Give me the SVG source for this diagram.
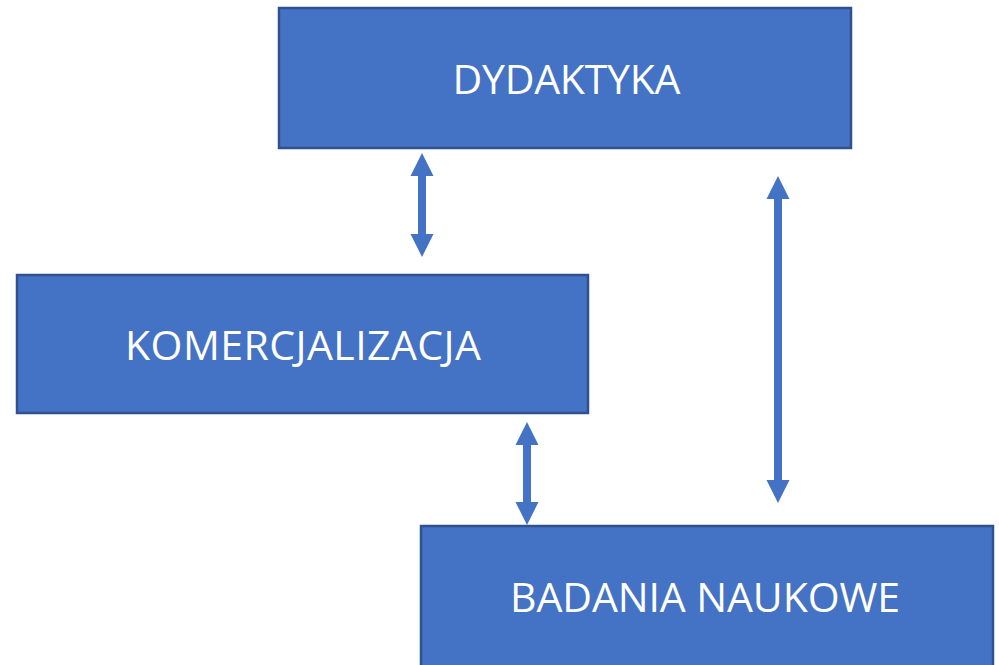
<svg xmlns="http://www.w3.org/2000/svg" width="999" height="665" viewBox="0 0 999 665">
<style>
.box{fill:#4472C4;stroke:#2F528F;stroke-width:2.5}
.lbl{fill:#FFFFFF;font-family:"Open Sans","Noto Sans","Liberation Sans",sans-serif;font-size:41px;text-anchor:middle}
.arr{fill:#4472C4}
</style>
<rect width="999" height="665" fill="#FFFFFF"/>
<g id="connectors">
<polygon class="arr" points="422,153 433.5,176 426,176 426,234 433.5,234 422,257 410.5,234 418,234 418,176 410.5,176"/>
<polygon class="arr" points="778,176 789.5,199 782,199 782,480 789.5,480 778,503 766.5,480 774,480 774,199 766.5,199"/>
<polygon class="arr" points="527,422 538.5,445 531,445 531,502 538.5,502 527,525 515.5,502 523,502 523,445 515.5,445"/>
</g>
<g id="dydaktyka">
<rect class="box" x="279" y="8" width="572" height="140"/>
<text class="lbl" x="566.5" y="93.5" textLength="228" lengthAdjust="spacing">DYDAKTYKA</text>
</g>
<g id="komercjalizacja">
<rect class="box" x="17" y="275" width="571" height="138"/>
<text class="lbl" x="303" y="360" textLength="356" lengthAdjust="spacing">KOMERCJALIZACJA</text>
</g>
<g id="badania">
<rect class="box" x="421" y="526" width="572" height="145"/>
<text class="lbl" x="705" y="612" textLength="390" lengthAdjust="spacing">BADANIA NAUKOWE</text>
</g>
</svg>
